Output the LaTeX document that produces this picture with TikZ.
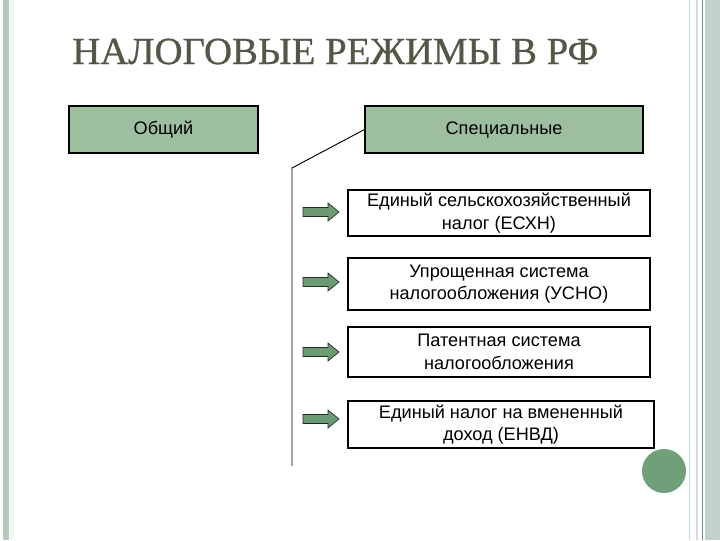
\documentclass[tikz,border=0pt]{standalone}
\usepackage{fontspec}
\usepackage{graphicx}
\setmainfont{Liberation Serif}
\newfontfamily\boxfont{Liberation Sans}
\newfontfamily\headfont[FakeBold=0.7]{Liberation Serif}
\definecolor{boxgreen}{RGB}{157,191,160}
\definecolor{arrowgreen}{RGB}{107,155,114}
\definecolor{dotgreen}{RGB}{111,160,122}
\definecolor{titlegrey}{RGB}{84,86,70}
\definecolor{stripe}{RGB}{180,202,190}
\definecolor{stripelight}{RGB}{236,248,240}
\definecolor{stripedark}{RGB}{100,150,125}
\definecolor{stripefill}{RGB}{194,210,202}
\tikzset{
  topbox/.style={draw=black, fill=boxgreen, line width=0.8pt, inner sep=0pt, font=\boxfont\fontsize{13.6}{16}\selectfont},
  subbox/.style={draw=black, fill=white, line width=0.8pt, inner sep=0pt, align=center, font=\boxfont\fontsize{13.6}{16.8}\selectfont},
  link/.style={draw=black, line width=0.7pt},
  blockarrow/.pic={\draw[fill=arrowgreen, draw=black!70!arrowgreen, line width=0.5pt]
    (0,-4.5)--(25,-4.5)--(25,-9)--(36,0)--(25,9)--(25,4.5)--(0,4.5)--cycle;}
}
\begin{document}
\begin{tikzpicture}[x=0.75pt,y=-0.75pt]
\useasboundingbox (0,0) rectangle (720,540);
% borders
\fill[stripe] (3,0) rectangle (9,540);
\fill[stripelight] (10,0) rectangle (14,540);
\fill[stripe!70!white] (688.5,0) rectangle (690,540);
\fill[black!15] (695.5,0) rectangle (698,540);
\fill[stripedark] (701.5,0) rectangle (703,540);
\fill[stripefill] (705,0) rectangle (720,540);
% title
\node[anchor=base west, text=titlegrey, inner sep=0pt] (title) at (72,64)
  {\resizebox{394.5pt}{19pt}{\headfont НАЛОГОВЫЕ РЕЖИМЫ В РФ}};
% top boxes
\node[topbox, minimum width=189*0.75pt, minimum height=47*0.75pt] (gen) at (163.5,129.5) {Общий};
\node[topbox, minimum width=278*0.75pt, minimum height=47*0.75pt] (spec) at (504,129.5) {Специальные};
% connector
\coordinate (corner) at (292,168);
\coordinate (bottom) at (292,466);
\draw[link] (spec.west) -- (corner) -- (bottom);
% sub boxes
\node[subbox, minimum width=302*0.75pt, minimum height=46*0.75pt] (b1) at (499,213) {Единый сельскохозяйственный\\налог (ЕСХН)};
\node[subbox, minimum width=302*0.75pt, minimum height=52*0.75pt] (b2) at (499,284) {Упрощенная система\\налогообложения (УСНО)};
\node[subbox, minimum width=302*0.75pt, minimum height=50*0.75pt] (b3) at (499,352) {Патентная система\\налогообложения};
\node[subbox, minimum width=306*0.75pt, minimum height=47*0.75pt] (b4) at (501,424.5) {Единый налог на вмененный\\доход (ЕНВД)};
% arrows
\pic (a1) at (303,212) {blockarrow};
\pic (a2) at (303,282) {blockarrow};
\pic (a3) at (303,352) {blockarrow};
\pic (a4) at (303,419) {blockarrow};
% dot
\fill[dotgreen] (664,471) circle[radius=22];
\end{tikzpicture}
\end{document}
